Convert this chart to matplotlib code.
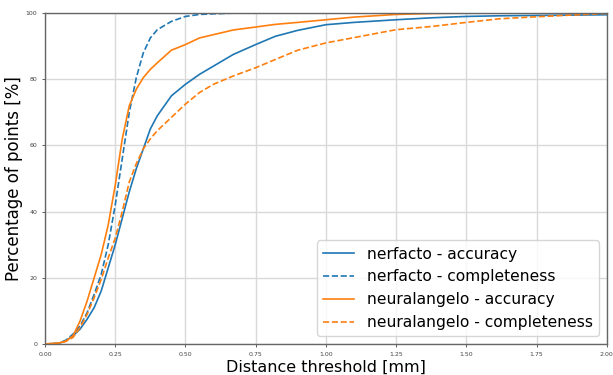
import numpy as np
import matplotlib.pyplot as plt

# distance thresholds [mm] and cumulative percentages
thr = [0.0, 0.05, 0.075, 0.1, 0.125, 0.15, 0.175, 0.2, 0.225, 0.25, 0.275, 0.3,
       0.325, 0.35, 0.375, 0.4, 0.45, 0.5, 0.55, 0.6, 0.67, 0.75, 0.82, 0.9,
       1.0, 1.1, 1.25, 1.38, 1.5, 1.62, 1.75, 1.87, 2.0]

nerf_acc = [0.0, 0.2, 1.0, 2.5, 4.5, 7.5, 11.0, 16.0, 23.0, 30.0, 38.0, 46.0,
            53.0, 59.0, 65.0, 69.0, 75.0, 78.5, 81.5, 84.0, 87.5, 90.5, 93.0, 94.8,
            96.5, 97.2, 98.0, 98.6, 99.0, 99.2, 99.3, 99.4, 99.5]

nerf_comp = [0.0, 0.2, 1.2, 3.0, 5.5, 9.5, 15.0, 21.0, 30.0, 42.0, 56.0, 70.0,
             80.5, 88.0, 92.5, 95.0, 97.5, 99.0, 99.6, 99.8, 100.0, 100.0, 100.0, 100.0,
             100.0, 100.0, 100.0, 100.0, 100.0, 100.0, 100.0, 100.0, 100.0]

neur_acc = [0.0, 0.3, 0.9, 2.5, 7.0, 13.0, 20.0, 27.0, 36.0, 48.0, 62.0, 72.0,
            77.0, 80.5, 83.0, 85.0, 88.8, 90.5, 92.5, 93.5, 94.9, 95.8, 96.6, 97.2,
            98.0, 98.8, 99.6, 99.9, 100.0, 100.0, 100.0, 100.0, 100.0]

neur_comp = [0.0, 0.2, 0.8, 2.0, 5.0, 9.0, 14.0, 19.5, 26.0, 32.0, 40.0, 49.0,
             54.5, 59.0, 62.0, 64.5, 68.5, 72.5, 76.0, 78.5, 81.0, 83.5, 86.0, 88.8,
             91.0, 92.6, 95.0, 96.0, 97.2, 98.3, 98.9, 99.4, 99.9]

fig = plt.figure(figsize=(6.13, 3.75), dpi=100)
ax = fig.add_axes([0.0734, 0.0827, 0.9166, 0.8823])

ax.plot(thr, nerf_acc, color="#1f77b4", lw=1.2, label="nerfacto - accuracy")
ax.plot(thr, nerf_comp, color="#1f77b4", lw=1.2, ls="--", label="nerfacto - completeness")
ax.plot(thr, neur_acc, color="#ff7f0e", lw=1.2, label="neuralangelo - accuracy")
ax.plot(thr, neur_comp, color="#ff7f0e", lw=1.2, ls="--", label="neuralangelo - completeness")

ax.set_xlim(0, 2.0)
ax.set_ylim(0, 100)
ax.set_xticks(np.arange(0, 2.01, 0.25))
ax.set_yticks([0, 20, 40, 60, 80, 100])
ax.tick_params(labelsize=4.5, length=2, width=0.6, colors="#444444")
ax.grid(True, color="#d9d9d9", lw=1.0)
for s in ax.spines.values():
    s.set_color("#666666")
    s.set_linewidth(1.0)

ax.set_xlabel("Distance threshold [mm]", fontsize=11.5, labelpad=2)
ax.set_ylabel("Percentage of points [%]", fontsize=12, labelpad=2)
ax.legend(loc="lower right", fontsize=11.2, handlelength=2.0)

fig.savefig("out.png", dpi=100)
